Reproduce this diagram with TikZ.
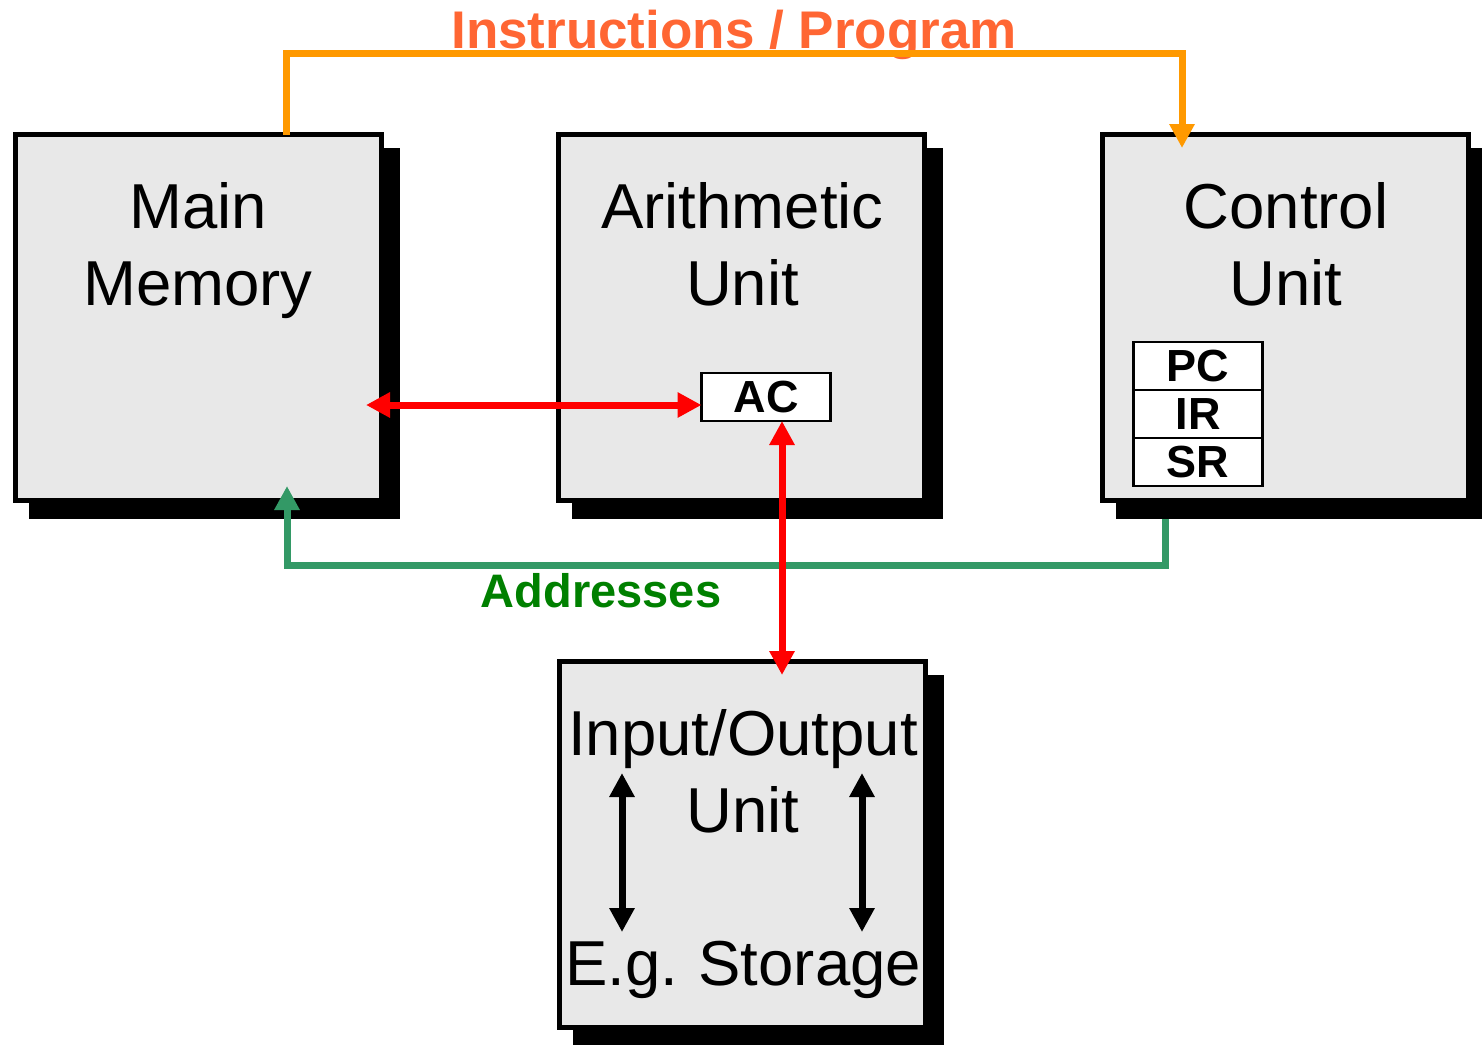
\documentclass[tikz,border=0pt]{standalone}
\usepackage{fontspec}
\setmainfont{Liberation Sans}
\usetikzlibrary{arrows.meta,shadows}
\definecolor{boxgray}{HTML}{E8E8E8}
\definecolor{instrorange}{HTML}{FF6633}
\definecolor{lineorange}{HTML}{FF9900}
\definecolor{addrgreen}{HTML}{339966}
\definecolor{addrtext}{HTML}{008000}
\definecolor{busred}{HTML}{FF0000}
\begin{document}
\begin{tikzpicture}[x=1pt,y=-1pt,
  unitbox/.style={draw=black, line width=5pt, fill=boxgray, minimum width=366pt, minimum height=366pt,
    inner sep=0pt, outer sep=0pt,
    drop shadow={shadow xshift=16pt, shadow yshift=-16pt, fill=black, draw=black, line width=5pt, opacity=1}},
  bigtext/.style={font=\fontsize{63.5}{77}\selectfont, anchor=base, inner sep=0pt},
  reg/.style={draw=black, line width=2.5pt, fill=white, minimum width=129pt, minimum height=48pt,
    inner sep=0pt, outer sep=0pt, font=\fontsize{45}{50}\selectfont\bfseries},
  link/.style={line width=7pt, -{Triangle[length=24pt,width=24pt]}},
  dlink/.style={line width=7pt, {Triangle[length=24pt,width=24pt]}-{Triangle[length=24pt,width=24pt]}},
]
\useasboundingbox[fill=white] (0,0) rectangle (1482,1044);

% unit boxes
\node[unitbox] (mm) at (198.5,317.5) {};
\node[unitbox] (au) at (741.5,317.5) {};
\node[unitbox] (cu) at (1285.5,317.5) {};
\node[unitbox] (io) at (742,844) {};

% box texts
\node[bigtext] (mmA) at (198,228) {Main};
\node[bigtext] (mmB) at (198,305) {Memory};
\node[bigtext] (auA) at (742.5,228) {Arithmetic};
\node[bigtext] (auB) at (742.5,305) {Unit};
\node[bigtext] (cuA) at (1286,228) {Control};
\node[bigtext] (cuB) at (1286,305) {Unit};
\node[bigtext] (ioA) at (743,755) {Input/Output};
\node[bigtext] (ioB) at (743,832) {Unit};
\node[bigtext] (ioC) at (743,985) {E.g.\kern-3pt{} Storage};

% registers
\node[reg] (ac) at (766,397) {AC};
\node[reg] (pc) at (1198,366) {PC};
\node[reg] (ir) at (1198,414) {IR};
\node[reg] (sr) at (1198,462) {SR};

% labels
\node[anchor=base, inner sep=0pt, text=instrorange, font=\fontsize{53}{60}\selectfont\bfseries] (instr) at (734,48) {Instructions / Program};
\node[anchor=base, inner sep=0pt, text=addrtext, font=\fontsize{47}{55}\selectfont\bfseries] (addr) at (601,607) {Addresses};

% instructions path
\coordinate (o1) at (286,53);
\coordinate (o2) at (1182,53);
\draw[link, lineorange, shorten >=-13.5pt] (mm.north -| o1) -- (o1) -- (o2) -- (cu.north -| o2);

% addresses path
\coordinate (g1) at (1165,565);
\coordinate (g2) at (287,565);
\draw[link, addrgreen, shorten <=18.5pt, shorten >=-14.5pt] (cu.south -| g1) -- (g1) -- (g2) -- (mm.south -| g2);

% data paths
\coordinate (rY) at (540,405);
\coordinate (rX) at (782,540);
\draw[dlink, busred, shorten >=-15.5pt] (ac.west |- rY) -- (mm.east |- rY);
\draw[dlink, busred, shorten >=-14pt] (ac.south -| rX) -- (io.north -| rX);

% I/O arrows
\coordinate (b1) at (622,773);
\coordinate (b2) at (622,932);
\coordinate (b3) at (862,773);
\coordinate (b4) at (862,932);
\draw[dlink, black] (b1) -- (b2);
\draw[dlink, black] (b3) -- (b4);
\end{tikzpicture}
\end{document}
